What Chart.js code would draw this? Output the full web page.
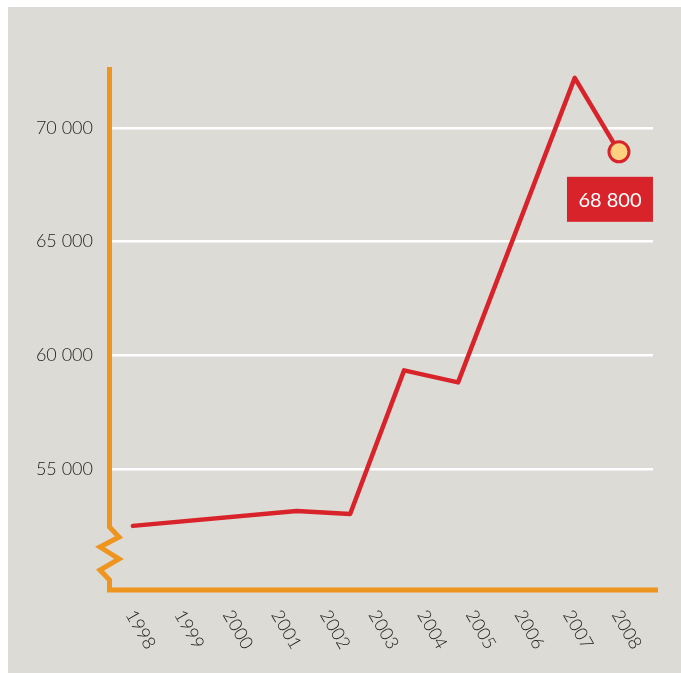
<!DOCTYPE html>
<html>
<head>
<meta charset="utf-8">
<script src="https://cdn.jsdelivr.net/npm/chart.js@4"></script>
<style>
  html, body { margin: 0; padding: 0; background: #ffffff; }
  #wrap { width: 681px; height: 673px; position: relative; }
  canvas { display: block; }
</style>
</head>
<body>
<div id="wrap"><canvas id="c" width="681" height="673"></canvas></div>
<script>
// ---- data ----
const yearTicks = [1998, 1999, 2000, 2001, 2002, 2003, 2004, 2005, 2006, 2007, 2008];
const pointX = [1998, 2001.37, 2002.47, 2003.58, 2004.69, 2007.09, 2008];
const pointY = [52500, 53150, 53020, 59340, 58810, 72200, 68950];
const yTickValues = [55000, 60000, 65000, 70000];
const lastLabel = '68 800';

const GREY = '#dcdbd6';
const ORANGE = '#ee951f';
const RED = '#d8232a';
const TEXT = '#222222';
const FONT = 'Lato, "Open Sans", sans-serif';

function fmt(v) {
  return String(v).replace(/\B(?=(\d{3})+(?!\d))/g, ' ');
}

const decorPlugin = {
  id: 'decor',
  beforeDraw(chart) {
    const ctx = chart.ctx;
    ctx.save();
    ctx.fillStyle = '#ffffff';
    ctx.fillRect(0, 0, chart.width, chart.height);
    ctx.fillStyle = GREY;
    ctx.fillRect(8, 7, chart.width - 8, chart.height - 7);
    ctx.restore();
  },
  afterDraw(chart) {
    const ctx = chart.ctx;
    const a = chart.chartArea;
    const xs = chart.scales.x;
    // orange axes with break mark
    const ax = a.left - 0.5;
    const b = a.bottom;
    ctx.save();
    ctx.strokeStyle = ORANGE;
    ctx.lineWidth = 5;
    ctx.lineJoin = 'miter';
    ctx.lineCap = 'butt';
    ctx.beginPath();
    ctx.moveTo(ax, a.top);
    ctx.lineTo(ax, b - 63);
    ctx.lineTo(ax + 9.5, b - 53);
    ctx.lineTo(ax - 9.5, b - 43);
    ctx.lineTo(ax + 9.5, b - 31);
    ctx.lineTo(ax - 9.5, b - 20);
    ctx.lineTo(ax, b - 10);
    ctx.lineTo(ax, b);
    ctx.lineTo(a.right + 5, b);
    ctx.stroke();

    // x tick labels rotated clockwise
    ctx.fillStyle = TEXT;
    ctx.font = '300 18px ' + FONT;
    ctx.textAlign = 'left';
    ctx.textBaseline = 'top';
    xs.ticks.forEach(t => {
      const px = xs.getPixelForValue(t.value);
      ctx.save();
      ctx.translate(px + 5, b + 17);
      ctx.rotate(60 * Math.PI / 180);
      ctx.fillText(String(t.value), 0, 0);
      ctx.restore();
    });

    // value label for the last point
    const meta = chart.getDatasetMeta(0);
    const last = meta.data[meta.data.length - 1];
    const bw = 86, bh = 45;
    const bx = last.x - 52, by = last.y + 25;
    ctx.fillStyle = RED;
    ctx.fillRect(bx, by, bw, bh);
    ctx.fillStyle = '#ffffff';
    ctx.font = '20px ' + FONT;
    ctx.textAlign = 'center';
    ctx.textBaseline = 'middle';
    ctx.fillText(lastLabel, bx + bw / 2, by + bh / 2 + 1);
    ctx.restore();
  }
};

const radii = pointX.map((_, i) => i === pointX.length - 1 ? 10 : 0);

new Chart(document.getElementById('c'), {
  type: 'line',
  data: {
    datasets: [{
      data: pointX.map((x, i) => ({ x: x, y: pointY[i] })),
      borderColor: RED,
      borderWidth: 4.5,
      borderJoinStyle: 'round',
      borderCapStyle: 'round',
      pointRadius: radii,
      pointHoverRadius: radii,
      pointBackgroundColor: '#fdd180',
      pointBorderColor: RED,
      pointBorderWidth: 3,
      tension: 0,
      fill: false
    }]
  },
  options: {
    responsive: false,
    animation: false,
    devicePixelRatio: 1,
    events: [],
    layout: { padding: { left: 0, top: 67, right: 28, bottom: 0 } },
    plugins: { legend: { display: false }, tooltip: { enabled: false } },
    scales: {
      x: {
        type: 'linear',
        min: 1997.53,
        max: 2008.7,
        afterBuildTicks: s => { s.ticks = yearTicks.map(v => ({ value: v })); },
        afterFit: s => { s.height = 83; },
        ticks: { display: false },
        grid: { display: false },
        border: { display: false }
      },
      y: {
        min: 49680,
        max: 72680,
        afterBuildTicks: s => { s.ticks = yTickValues.map(v => ({ value: v })); },
        afterFit: s => { s.width = 110; },
        ticks: {
          color: TEXT,
          font: { family: FONT, size: 18, weight: '300' },
          padding: 17,
          callback: v => fmt(v)
        },
        grid: { color: '#ffffff', lineWidth: 2.5, drawTicks: false },
        border: { display: false }
      }
    }
  },
  plugins: [decorPlugin]
});
</script>
</body>
</html>
